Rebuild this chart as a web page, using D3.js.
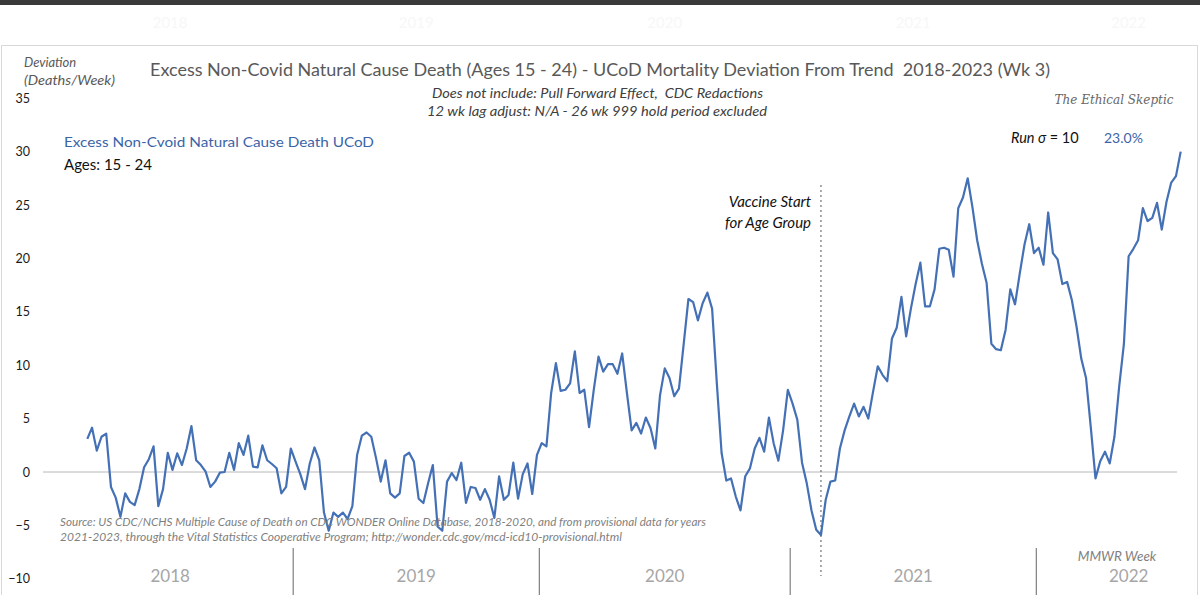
<!DOCTYPE html>
<html>
<head>
    <meta charset="utf-8">
    <script src="https://cdnjs.cloudflare.com/ajax/libs/d3/7.8.5/d3.min.js"></script>
    <style>
        html, body {
            margin: 0px;
            padding: 0px;
            background: #fff;
        }
        svg {
            display: block;
            font-family: Lato, "Open Sans", sans-serif;
        }
    </style>
</head>
<body>
<svg id="chart" width="1200" height="595"></svg>

<script>
        // weekly deviation (deaths/week), one value per MMWR week, starting 2018 wk 9
        const deviation = [
            3.1, 4.15, 2.0, 3.3, 3.6, -1.4, -2.4, -4.2, -2.0, -2.8,
            -3.1, -1.6, 0.44, 1.2, 2.4, -3.2, -1.6, 1.8, 0.2, 1.75,
            0.65, 2.2, 4.3, 1.1, 0.65, 0.03, -1.4, -0.9, -0.06, 0.0,
            1.8, 0.2, 2.7, 1.6, 3.4, 0.5, 0.44, 2.5, 1.1, 0.75,
            0.35, -2.0, -1.4, 2.2, 0.97, -0.2, -1.6, 0.8, 2.3, 1.1,
            -3.8, -5.5, -3.8, -4.2, -3.8, -4.4, -3.2, 1.6, 3.4, 3.7,
            3.3, 1.3, -0.9, 1.1, -2.0, -2.4, -2.0, 1.5, 1.8, 0.97,
            -2.5, -2.9, -1.06, 0.65, -5.1, -5.5, -0.9, -0.1, -0.75, 0.87,
            -2.9, -1.4, -1.5, -2.6, -1.6, -2.6, -4.3, -0.4, -2.6, -2.15,
            0.87, -2.5, -0.2, 0.8, -2.06, 1.6, 2.7, 2.4, 7.4, 10.2,
            7.6, 7.7, 8.3, 11.3, 7.4, 7.7, 4.2, 7.7, 10.8, 9.4,
            10.1, 10.1, 9.2, 11.1, 7.4, 3.9, 4.6, 3.6, 5.1, 4.1,
            2.2, 7.2, 9.7, 8.8, 7.1, 7.8, 12.0, 16.2, 15.9, 14.2,
            15.8, 16.8, 15.3, 8.3, 1.8, -0.8, -0.6, -2.3, -3.6, -0.4,
            0.34, 2.2, 3.2, 1.9, 5.1, 2.7, 1.06, 3.9, 7.7, 6.4,
            4.9, 0.87, -1.06, -3.6, -5.4, -5.9, -2.6, -0.9, -0.8, 2.2,
            3.9, 5.2, 6.4, 5.2, 6.1, 5.0, 7.5, 9.9, 9.1, 8.5,
            12.5, 13.5, 16.4, 12.7, 15.3, 17.6, 19.6, 15.5, 15.5, 17.1,
            20.9, 21.0, 20.8, 18.3, 24.7, 25.7, 27.5, 24.8, 21.7, 19.5,
            17.7, 12.0, 11.5, 11.4, 13.3, 17.1, 15.7, 18.6, 21.3, 23.2,
            20.5, 21.0, 19.4, 24.3, 20.5, 19.9, 17.6, 17.8, 16.1, 13.6,
            10.6, 8.8, 4.2, -0.6, 1.0, 1.9, 0.8, 3.3, 8.0, 12.0,
            20.2, 20.9, 21.7, 24.7, 23.5, 23.8, 25.2, 22.7, 25.3, 27.1,
            27.7, 30.0
        ];

        // year categories on the week axis (week index where each year begins)
        const years = ["2018", "2019", "2020", "2021", "2022"];
        const yearStarts = [-8.5, 43.5, 95.5, 148.5, 200.5];
        const axisEnd = 239.5;
        const vaccineWeek = 155;

        const yTicks = [-10, -5, 0, 5, 10, 15, 20, 25, 30, 35];

        const svg = d3.select("#chart");
        const blue = "#4470b6";

        const x = d3.scaleLinear().domain([0, deviation.length - 1]).range([87.3, 1180.7]);
        const y = d3.scaleLinear().domain([-10, 35]).range([578.8, 98.2]);

        const yearMid = i => x((yearStarts[i] + (i < years.length - 1 ? yearStarts[i + 1] : axisEnd)) / 2);

        // top strip + chart frame
        svg.append("rect").attr("x", 0).attr("y", 0).attr("width", 1200).attr("height", 5).attr("fill", "#3a3a3a");
        svg.selectAll(".ghost").data(years).enter().append("text")
            .attr("x", (d, i) => yearMid(i))
            .attr("y", 28).attr("text-anchor", "middle")
            .attr("font-size", 15).attr("fill", "#f7f7f7").text(d => d);
        svg.append("rect").attr("x", 1.5).attr("y", 45.5).attr("width", 1196).attr("height", 560)
            .attr("fill", "none").attr("stroke", "#d9d9d9");

        // zero line
        svg.append("line").attr("x1", 43).attr("x2", 1177)
            .attr("y1", y(0)).attr("y2", y(0)).attr("stroke", "#a6a6a6").attr("stroke-width", 0.8);

        // y axis
        const yAxis = svg.append("g").attr("transform", "translate(30,0)")
            .call(d3.axisLeft(y).tickValues(yTicks).tickSize(0).tickPadding(0).tickFormat(d3.format("d")));
        yAxis.select(".domain").remove();
        yAxis.selectAll("text").attr("font-family", "Lato, sans-serif").attr("font-size", 12.5).attr("fill", "#1a1a1a");

        // year dividers and labels
        svg.selectAll(".divider").data(yearStarts.slice(1)).enter().append("line")
            .attr("x1", d => x(d)).attr("x2", d => x(d))
            .attr("y1", 548).attr("y2", 595).attr("stroke", "#7f7f7f").attr("stroke-width", 1.2);
        svg.selectAll(".year").data(years).enter().append("text")
            .attr("x", (d, i) => yearMid(i))
            .attr("y", 582).attr("text-anchor", "middle")
            .attr("font-size", 17).attr("fill", "#a6a6a6").text(d => d);
        svg.append("text").attr("x", 1117).attr("y", 561).attr("text-anchor", "middle")
            .attr("font-size", 13.5).attr("font-style", "italic").attr("fill", "#7f7f7f").text("MMWR Week");

        // vaccine start marker
        svg.append("line").attr("x1", x(vaccineWeek)).attr("x2", x(vaccineWeek))
            .attr("y1", 185).attr("y2", 576)
            .attr("stroke", "#555").attr("stroke-width", 1).attr("stroke-dasharray", "2,3");
        svg.append("text").attr("x", 811).attr("y", 207).attr("text-anchor", "end")
            .attr("font-size", 15).attr("font-style", "italic").attr("fill", "#111").text("Vaccine Start");
        svg.append("text").attr("x", 811).attr("y", 228).attr("text-anchor", "end")
            .attr("font-size", 15).attr("font-style", "italic").attr("fill", "#111").text("for Age Group");

        // the series
        const line = d3.line().x((d, i) => x(i)).y(d => y(d));
        svg.append("path").datum(deviation)
            .attr("d", line).attr("fill", "none")
            .attr("stroke", blue).attr("stroke-width", 2.2).attr("stroke-linejoin", "round");

        // texts
        svg.append("text").attr("x", 24).attr("y", 67).attr("font-size", 13).attr("font-style", "italic")
            .attr("fill", "#595959").text("Deviation");
        svg.append("text").attr("x", 24).attr("y", 85).attr("font-size", 13).attr("font-style", "italic")
            .attr("fill", "#595959").attr("textLength", 91).attr("lengthAdjust", "spacingAndGlyphs")
            .text("(Deaths/Week)");

        svg.append("text").attr("x", 150).attr("y", 76).attr("font-size", 17.5).attr("fill", "#595959")
            .attr("textLength", 900).attr("lengthAdjust", "spacingAndGlyphs")
            .text("Excess Non-Covid Natural Cause Death (Ages 15 - 24) - UCoD Mortality Deviation From Trend\u00a0\u00a02018-2023 (Wk 3)");
        svg.append("text").attr("x", 432).attr("y", 98)
            .attr("font-size", 13).attr("font-style", "italic").attr("fill", "#404040")
            .attr("textLength", 331).attr("lengthAdjust", "spacingAndGlyphs")
            .text("Does not include: Pull Forward Effect,\u00a0\u00a0CDC Redactions");
        svg.append("text").attr("x", 427).attr("y", 116)
            .attr("font-size", 13).attr("font-style", "italic").attr("fill", "#404040")
            .attr("textLength", 340).attr("lengthAdjust", "spacingAndGlyphs")
            .text("12 wk lag adjust: N/A - 26 wk 999 hold period excluded");

        svg.append("text").attr("x", 64).attr("y", 147).attr("font-size", 14).attr("fill", "#3b64a8")
            .attr("textLength", 310).attr("lengthAdjust", "spacingAndGlyphs")
            .text("Excess Non-Cvoid Natural Cause Death UCoD");
        svg.append("text").attr("x", 64).attr("y", 170).attr("font-size", 14.5).attr("fill", "#111")
            .attr("textLength", 88).attr("lengthAdjust", "spacingAndGlyphs")
            .text("Ages: 15 - 24");

        svg.append("text").attr("x", 1114).attr("y", 104).attr("text-anchor", "middle")
            .attr("font-family", "'DejaVu Serif', serif").attr("font-style", "italic")
            .attr("font-size", 12).attr("fill", "#666").text("The Ethical Skeptic");

        const run = svg.append("text").attr("x", 1011).attr("y", 143).attr("font-size", 14.5).attr("fill", "#111");
        run.append("tspan").attr("font-style", "italic").text("Run \u03c3");
        run.append("tspan").text(" = 10");
        svg.append("text").attr("x", 1104).attr("y", 143).attr("font-size", 14).attr("fill", "#3b64a8").text("23.0%");

        svg.append("text").attr("x", 60).attr("y", 526).attr("font-size", 10.5).attr("font-style", "italic")
            .attr("fill", "#7f7f7f").attr("textLength", 646).attr("lengthAdjust", "spacingAndGlyphs")
            .text("Source: US CDC/NCHS Multiple Cause of Death on CDC WONDER Online Database, 2018-2020, and from provisional data for years");
        svg.append("text").attr("x", 60).attr("y", 541).attr("font-size", 10.5).attr("font-style", "italic")
            .attr("fill", "#7f7f7f").attr("textLength", 562).attr("lengthAdjust", "spacingAndGlyphs")
            .text("2021-2023, through the Vital Statistics Cooperative Program; http://wonder.cdc.gov/mcd-icd10-provisional.html");
</script>
</body>
</html>
